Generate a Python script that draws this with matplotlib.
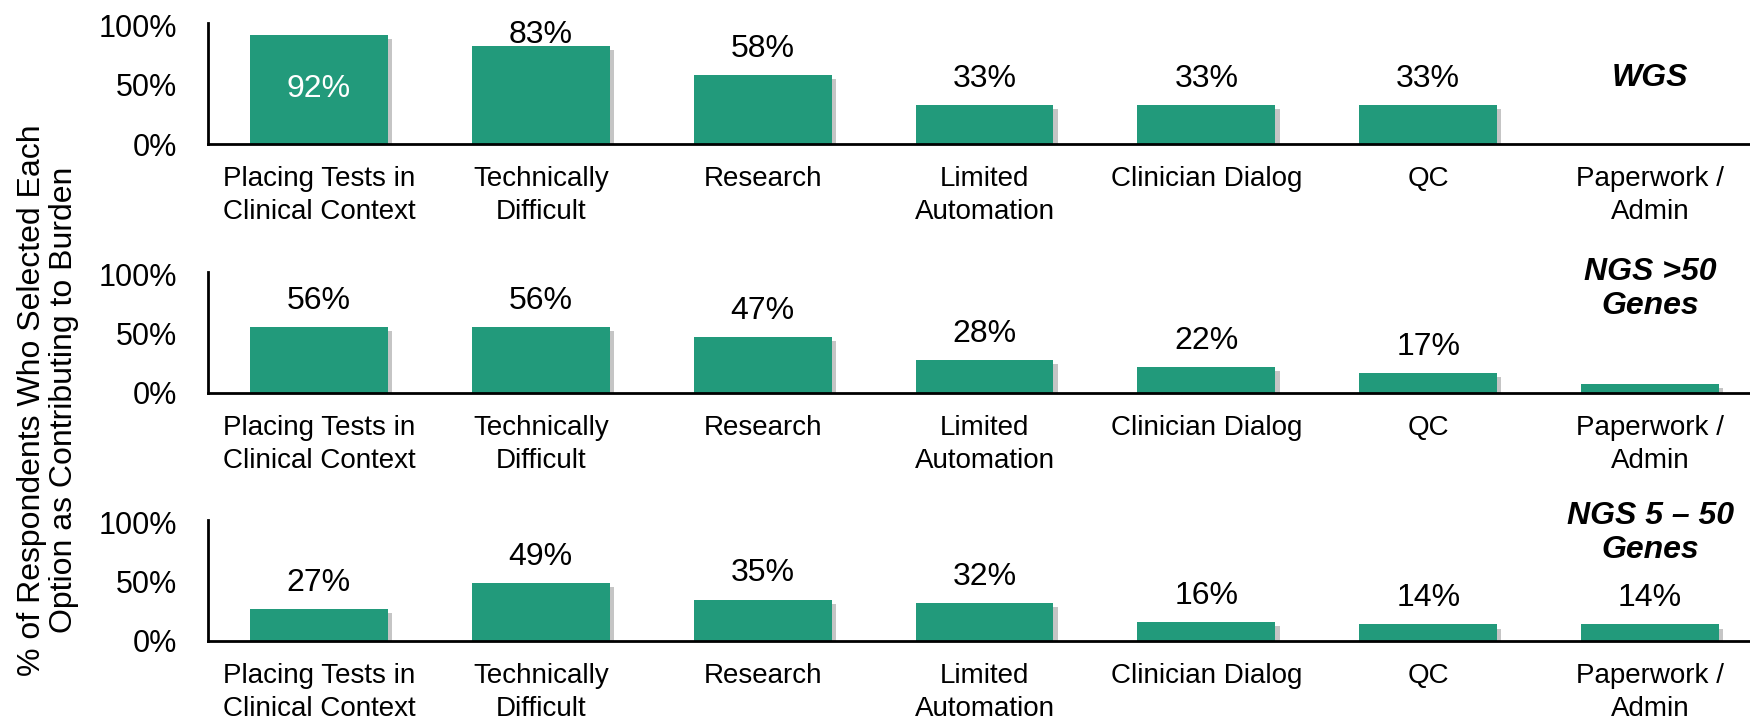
import matplotlib
matplotlib.use("Agg")
import matplotlib.pyplot as plt
import matplotlib.patheffects as pe

plt.rcParams['font.family'] = ['Liberation Sans', 'DejaVu Sans']

categories = ["Placing Tests in\nClinical Context", "Technically\nDifficult", "Research",
              "Limited\nAutomation", "Clinician Dialog", "QC", "Paperwork /\nAdmin"]
panel_names = ["WGS", "NGS >50\nGenes", "NGS 5 \u2013 50\nGenes"]
wgs = [92, 83, 58, 33, 33, 33, 0]
ngs_over_50 = [56, 56, 47, 28, 22, 17, 8]
ngs_5_50 = [27, 49, 35, 32, 16, 14, 14]
# which bars carry a % label (the 8% paperwork bar for NGS >50 has none)
show_label = [[True] * 6 + [False], [True] * 6 + [False], [True] * 7]

panel_values = [wgs, ngs_over_50, ngs_5_50]
yticks = [0, 50, 100]
ytick_labels = ["0%", "50%", "100%"]

green = "#229A7B"
W, H = 1750, 718
fig = plt.figure(figsize=(W / 100, H / 100), dpi=100)

baselines = [144, 393, 641]     # pixel rows of the zero lines
title_y = [56, 88, 91]
px_per_pct = 1.185
left, right = 208, 1761

shadow = [pe.SimplePatchShadow(offset=(3, -3), shadow_rgbFace="#808080", alpha=0.45), pe.Normal()]

for p, vals in enumerate(panel_values):
    h = 102 * px_per_pct
    ax = fig.add_axes([left / W, (H - baselines[p]) / H, (right - left) / W, h / H])
    x = range(len(categories))
    bars = ax.bar(x, vals, width=0.622, color=green, zorder=2)
    for b in bars:
        b.set_path_effects(shadow)
    ax.set_xlim(-0.5, len(categories) - 0.5)
    ax.set_ylim(0, 102)
    ax.set_yticks(yticks)
    ax.set_yticklabels(ytick_labels, fontsize=22)
    ax.set_xticks(list(x))
    ax.set_xticklabels(categories, fontsize=20, linespacing=1.32)
    ax.tick_params(axis="y", length=0, pad=22)
    ax.tick_params(axis="x", length=0, pad=16)
    for s in ["top", "right"]:
        ax.spines[s].set_visible(False)
    for s in ["left", "bottom"]:
        ax.spines[s].set_linewidth(2)
        ax.spines[s].set_color("black")
        ax.spines[s].set_zorder(3)

    for i, v in enumerate(vals):
        if not show_label[p][i]:
            continue
        if v > 90:
            ax.text(i, v / 2, f"{v}%", ha="center", va="center", color="white", fontsize=23, zorder=4)
        else:
            off = 2 if v > 75 else 13
            ax.annotate(f"{v}%", (i, v), xytext=(0, off), textcoords="offset points",
                        ha="center", va="baseline", fontsize=23, annotation_clip=False)

    ax.text(len(categories) - 1, title_y[p], panel_names[p], ha="center", va="center",
            fontsize=23, fontweight="bold", fontstyle="italic", linespacing=1.17)

fig.text(48 / W, 1 - 400 / H, "% of Respondents Who Selected Each\nOption as Contributing to Burden",
         rotation=90, ha="center", va="center", fontsize=23, linespacing=1.1, multialignment="center")

fig.savefig("out.png", dpi=100)
